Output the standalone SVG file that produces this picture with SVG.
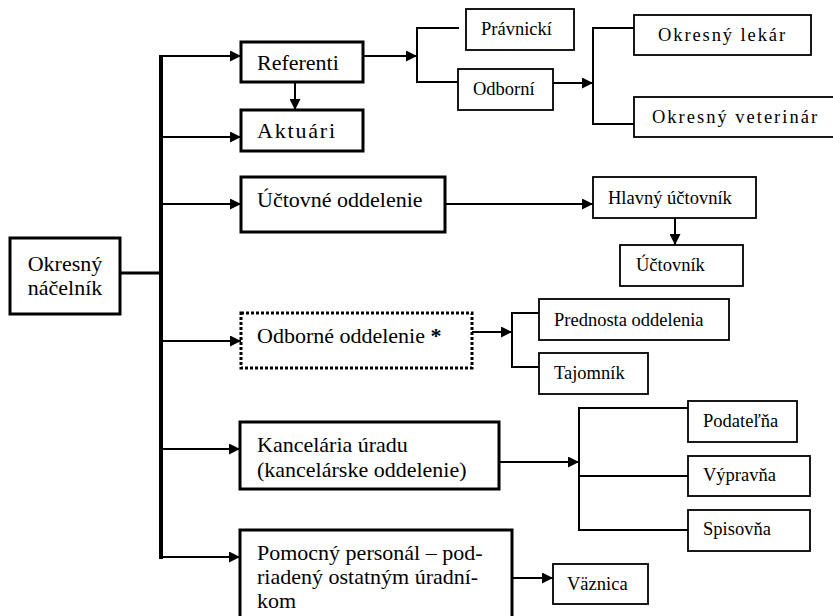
<svg xmlns="http://www.w3.org/2000/svg" width="833" height="616" viewBox="0 0 833 616">
<defs>
<marker id="arr" markerUnits="userSpaceOnUse" markerWidth="11" markerHeight="11" refX="11" refY="5.5" orient="auto">
<path d="M0,0 L11,5.5 L0,11 z" fill="#000"/>
</marker>
<style>
.main{fill:#fff;stroke:#000;stroke-width:3}
.dot{fill:#fff;stroke:#000;stroke-width:3;stroke-dasharray:3 2}
.sub{fill:#fff;stroke:#000;stroke-width:1.8}
text{font-family:'Liberation Serif','DejaVu Serif','Times New Roman',serif;fill:#000}
.tm{font-size:22px}
.ts{font-size:18.5px}
.ln{fill:none;stroke:#000;stroke-width:2}
.ar{fill:none;stroke:#000;stroke-width:2;marker-end:url(#arr)}
</style>
</defs>
<rect width="833" height="616" fill="#fff"/>
<g id="connectors">
<line x1="121" y1="273" x2="161" y2="273" stroke="#000" stroke-width="3"/>
<line x1="161" y1="55" x2="161" y2="559" stroke="#000" stroke-width="4"/>
<line class="ar" x1="161" y1="56" x2="241" y2="56"/>
<line class="ar" x1="161" y1="137" x2="241" y2="137"/>
<line class="ar" x1="161" y1="204" x2="241" y2="204"/>
<line class="ar" x1="161" y1="341" x2="241" y2="341"/>
<line class="ar" x1="161" y1="449" x2="240" y2="449"/>
<line class="ar" x1="161" y1="557" x2="240" y2="557"/>
<line class="ar" x1="295" y1="82" x2="295" y2="110"/>
<line class="ar" x1="363" y1="56" x2="417" y2="56"/>
<path class="ln" d="M459,28 H417 V82 H458"/>
<line class="ar" x1="553" y1="83" x2="593" y2="83"/>
<path class="ln" d="M634,28 H593 V124 H634"/>
<line class="ar" x1="445" y1="204" x2="593" y2="204"/>
<line class="ar" x1="675" y1="218" x2="675" y2="245"/>
<line class="ar" x1="472" y1="332" x2="512" y2="332"/>
<path class="ln" d="M539,313 H512 V367 H539"/>
<line class="ar" x1="499" y1="462" x2="579" y2="462"/>
<path class="ln" d="M688,408 H579 V530 H688 M579,476 H688"/>
<line class="ar" x1="512" y1="578" x2="553" y2="578"/>
</g>
<g id="okresny-nacelnik">
<rect class="main" x="10" y="238" width="110" height="76"/>
<text class="tm" x="65" y="271" text-anchor="middle">Okresný</text>
<text class="tm" x="65" y="295" text-anchor="middle">náčelník</text>
</g>
<g id="referenti">
<rect class="main" x="241" y="42" width="122" height="40"/>
<text class="tm" x="257" y="70">Referenti</text>
</g>
<g id="aktuari">
<rect class="main" x="241" y="110" width="122" height="41"/>
<text class="tm" x="257" y="138" letter-spacing="1.8">Aktuári</text>
</g>
<g id="pravnicki">
<rect class="sub" x="466" y="9" width="108" height="41"/>
<text class="ts" x="481" y="35">Právnickí</text>
</g>
<g id="odborni">
<rect class="sub" x="458" y="69" width="95" height="41"/>
<text class="ts" x="473" y="95">Odborní</text>
</g>
<g id="okresny-lekar">
<rect class="sub" x="634" y="15" width="177" height="40"/>
<text class="ts" x="658" y="41" letter-spacing="1.9">Okresný lekár</text>
</g>
<g id="okresny-veterinar">
<rect class="sub" x="634" y="97" width="205" height="40"/>
<text class="ts" x="652" y="123" letter-spacing="2">Okresný veterinár</text>
</g>
<g id="uctovne-oddelenie">
<rect class="main" x="241" y="177" width="204" height="55"/>
<text class="tm" x="257" y="207">Účtovné oddelenie</text>
</g>
<g id="hlavny-uctovnik">
<rect class="sub" x="593" y="177" width="163" height="41"/>
<text class="ts" x="608" y="204">Hlavný účtovník</text>
</g>
<g id="uctovnik">
<rect class="sub" x="620" y="245" width="123" height="41"/>
<text class="ts" x="636" y="271">Účtovník</text>
</g>
<g id="odborne-oddelenie">
<rect class="dot" x="241" y="313" width="231" height="55"/>
<text class="tm" x="257" y="343">Odborné oddelenie <tspan font-weight="bold">*</tspan></text>
</g>
<g id="prednosta-oddelenia">
<rect class="sub" x="539" y="299" width="190" height="41"/>
<text class="ts" x="554" y="326">Prednosta oddelenia</text>
</g>
<g id="tajomnik">
<rect class="sub" x="539" y="353" width="109" height="41"/>
<text class="ts" x="554" y="379">Tajomník</text>
</g>
<g id="kancelaria-uradu">
<rect class="main" x="240" y="422" width="259" height="67"/>
<text class="tm" x="257" y="452">Kancelária úradu</text>
<text class="tm" x="257" y="477">(kancelárske oddelenie)</text>
</g>
<g id="podatelna">
<rect class="sub" x="688" y="401" width="109" height="41"/>
<text class="ts" x="703" y="427">Podateľňa</text>
</g>
<g id="vypravna">
<rect class="sub" x="688" y="456" width="122" height="40"/>
<text class="ts" x="703" y="481">Výpravňa</text>
</g>
<g id="spisovna">
<rect class="sub" x="688" y="510" width="122" height="41"/>
<text class="ts" x="703" y="535">Spisovňa</text>
</g>
<g id="pomocny-personal">
<rect class="main" x="240" y="530" width="272" height="100"/>
<text class="tm" x="257" y="560">Pomocný personál – pod-</text>
<text class="tm" x="257" y="584">riadený ostatným úradní-</text>
<text class="tm" x="257" y="608">kom</text>
</g>
<g id="vaznica">
<rect class="sub" x="553" y="564" width="95" height="40"/>
<text class="ts" x="567" y="590">Väznica</text>
</g>
</svg>
